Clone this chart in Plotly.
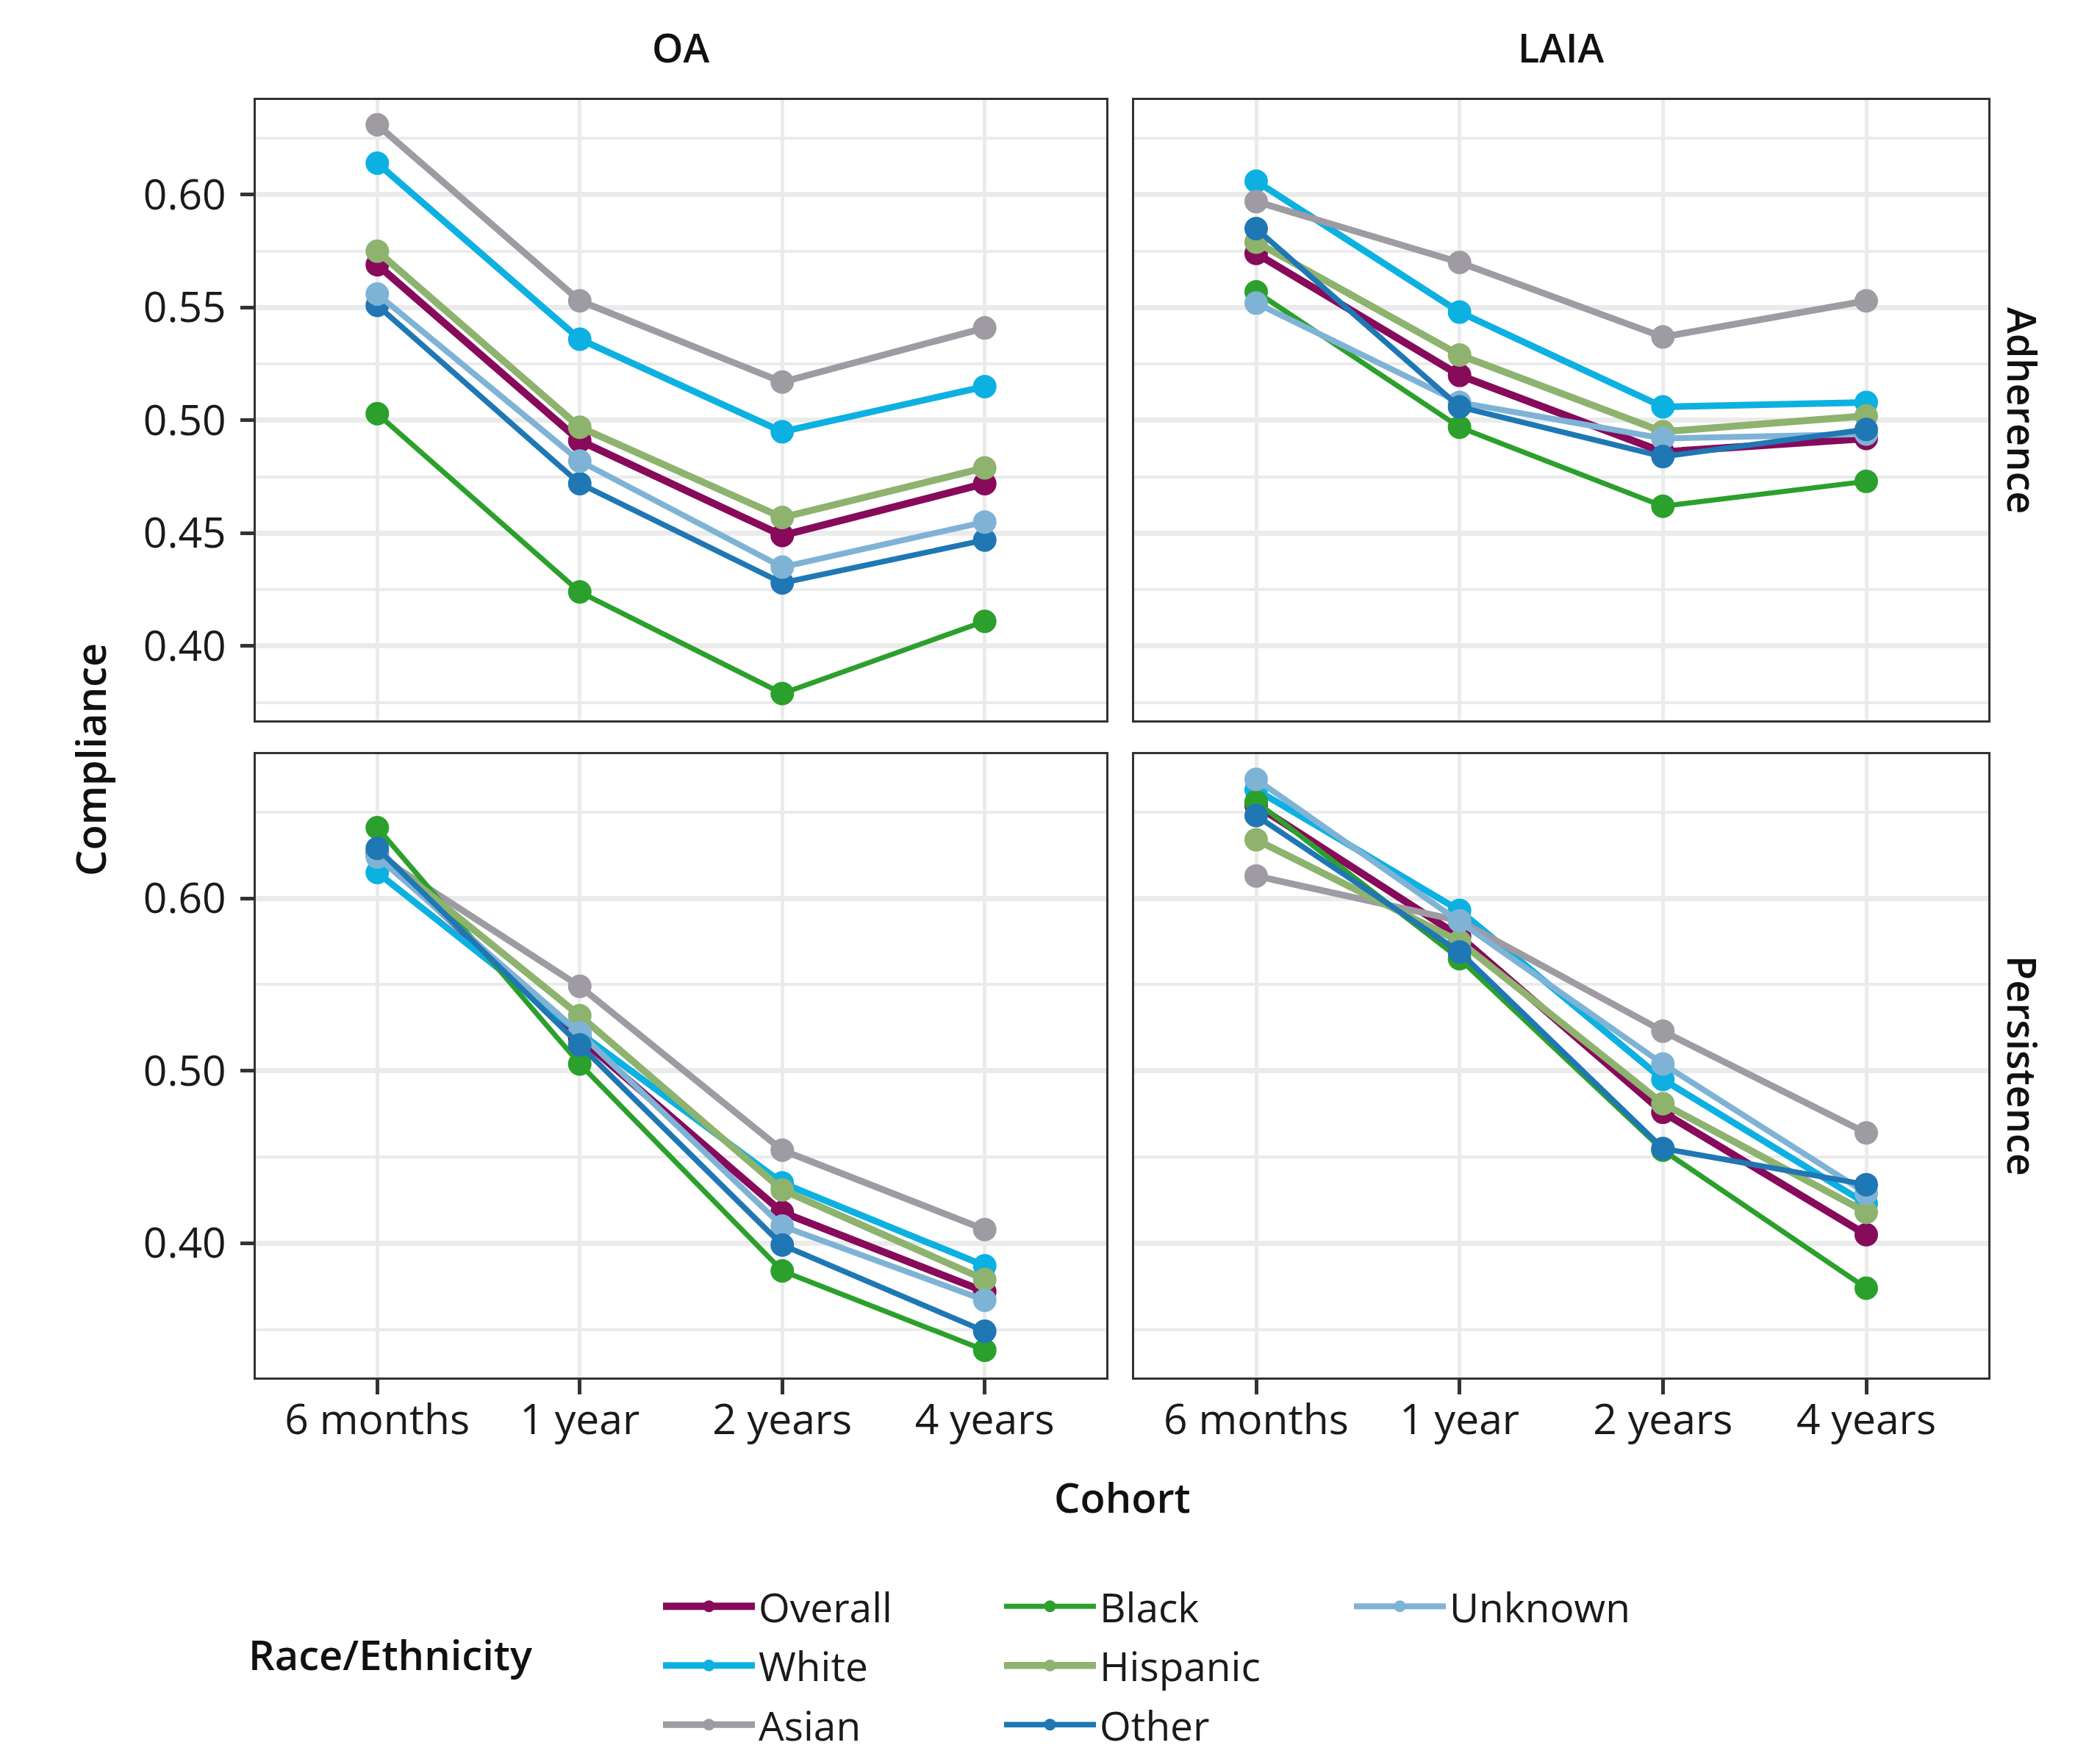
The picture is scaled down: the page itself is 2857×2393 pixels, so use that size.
import plotly.graph_objects as go

# ---------------- data ----------------
cohorts = ["6 months", "1 year", "2 years", "4 years"]
groups = ["Overall", "White", "Asian", "Black", "Hispanic", "Other", "Unknown"]

oa_adherence = {
    "Overall":  [0.569, 0.491, 0.449, 0.472],
    "White":    [0.614, 0.536, 0.495, 0.515],
    "Asian":    [0.631, 0.553, 0.517, 0.541],
    "Black":    [0.503, 0.424, 0.379, 0.411],
    "Hispanic": [0.575, 0.497, 0.457, 0.479],
    "Other":    [0.551, 0.472, 0.428, 0.447],
    "Unknown":  [0.556, 0.482, 0.435, 0.455],
}
laia_adherence = {
    "Overall":  [0.574, 0.520, 0.486, 0.492],
    "White":    [0.606, 0.548, 0.506, 0.508],
    "Asian":    [0.597, 0.570, 0.537, 0.553],
    "Black":    [0.557, 0.497, 0.462, 0.473],
    "Hispanic": [0.579, 0.529, 0.495, 0.502],
    "Other":    [0.585, 0.506, 0.484, 0.496],
    "Unknown":  [0.552, 0.508, 0.492, 0.494],
}
oa_persistence = {
    "Overall":  [0.626, 0.519, 0.418, 0.372],
    "White":    [0.615, 0.522, 0.435, 0.387],
    "Asian":    [0.625, 0.549, 0.454, 0.408],
    "Black":    [0.641, 0.504, 0.384, 0.338],
    "Hispanic": [0.627, 0.532, 0.431, 0.379],
    "Other":    [0.629, 0.515, 0.399, 0.349],
    "Unknown":  [0.624, 0.522, 0.410, 0.367],
}
laia_persistence = {
    "Overall":  [0.654, 0.578, 0.476, 0.405],
    "White":    [0.663, 0.593, 0.495, 0.423],
    "Asian":    [0.613, 0.587, 0.523, 0.464],
    "Black":    [0.656, 0.565, 0.454, 0.374],
    "Hispanic": [0.634, 0.575, 0.481, 0.418],
    "Other":    [0.648, 0.569, 0.455, 0.434],
    "Unknown":  [0.669, 0.587, 0.504, 0.429],
}

adh_ticks = [0.40, 0.45, 0.50, 0.55, 0.60]
per_ticks = [0.40, 0.50, 0.60]

# ---------------- styles ----------------
colors = {
    "Overall": "#870a5b",
    "White": "#0db1e1",
    "Asian": "#9e9ba3",
    "Black": "#2ca02c",
    "Hispanic": "#8db36f",
    "Other": "#1f77b4",
    "Unknown": "#7fb3d6",
}
widths = {"Overall": 10, "White": 9, "Asian": 9, "Black": 7,
          "Hispanic": 9.5, "Other": 7.5, "Unknown": 8}
legend_of = {"Overall": "legend", "White": "legend", "Asian": "legend",
             "Black": "legend2", "Hispanic": "legend2", "Other": "legend2",
             "Unknown": "legend3"}
draw_order = ["Overall", "White", "Asian", "Black", "Hispanic", "Unknown", "Other"]
legend_order = ["Overall", "White", "Asian", "Black", "Hispanic", "Other", "Unknown"]

FONT = "Open Sans"
W, H = 2857, 2393
BODY = 8  # default page margin offset of the html body

fig = go.Figure()

panels = [
    (oa_adherence, "x", "y"),
    (laia_adherence, "x2", "y2"),
    (oa_persistence, "x3", "y3"),
    (laia_persistence, "x4", "y4"),
]

for pi, (data, xa, ya) in enumerate(panels):
    order = legend_order if pi == 0 else draw_order
    for g in order:
        fig.add_trace(go.Scatter(
            x=cohorts, y=data[g], name=g, mode="lines+markers",
            line=dict(color=colors[g], width=widths[g]),
            marker=dict(color=colors[g], size=32),
            xaxis=xa, yaxis=ya,
            legend=legend_of[g], legendgroup=g,
            showlegend=(pi == 0),
        ))

# ---------------- layout ----------------
def px_x(v):
    return (v - BODY) / W

def px_y(v):
    return 1 - (v - BODY) / H

xl = [px_x(348), px_x(1505)]
xr = [px_x(1543), px_x(2705)]
yt = [px_y(980), px_y(136)]
yb = [px_y(1874), px_y(1026)]

grid_major = "#ebebeb"
line_col = "#333333"
TICK_SIZE = 57

def xaxis(domain, anchor, show_labels):
    return dict(
        domain=domain, anchor=anchor, type="category",
        categoryorder="array", categoryarray=cohorts,
        range=[-0.6, 3.6], showgrid=True, gridcolor=grid_major, gridwidth=5,
        showline=True, mirror=True, linecolor=line_col, linewidth=3,
        ticks="outside" if show_labels else "", ticklen=20, tickwidth=5,
        tickcolor=line_col, showticklabels=show_labels,
        ticklabelstandoff=-14,
        tickfont=dict(family=FONT, size=TICK_SIZE, color="#1a1a1a"),
        zeroline=False, fixedrange=True,
    )

def yaxis(domain, anchor, rng, tickvals, minor_dtick, minor_tick0, show_labels):
    return dict(
        domain=domain, anchor=anchor, range=rng,
        tickmode="array", tickvals=tickvals, tickformat=".2f",
        showgrid=True, gridcolor=grid_major, gridwidth=7,
        minor=dict(tickmode="linear", tick0=minor_tick0, dtick=minor_dtick,
                   showgrid=True, gridcolor=grid_major, gridwidth=4, ticklen=0),
        showline=True, mirror=True, linecolor=line_col, linewidth=3,
        ticks="outside" if show_labels else "", ticklen=18, tickwidth=5,
        tickcolor=line_col, showticklabels=show_labels,
        ticklabelstandoff=8,
        tickfont=dict(family=FONT, size=TICK_SIZE, color="#1a1a1a"),
        zeroline=False, fixedrange=True,
    )

adh_range = [0.3671, 0.6420]
per_range = [0.3222, 0.6836]

fig.update_layout(
    width=W, height=H,
    margin=dict(l=0, r=0, t=0, b=0, autoexpand=False),
    paper_bgcolor="white", plot_bgcolor="white",
    font=dict(family=FONT, color="#1a1a1a"),
    xaxis=xaxis(xl, "y", False),
    xaxis2=xaxis(xr, "y2", False),
    xaxis3=xaxis(xl, "y3", True),
    xaxis4=xaxis(xr, "y4", True),
    yaxis=yaxis(yt, "x", adh_range, adh_ticks, 0.05, 0.375, True),
    yaxis2=yaxis(yt, "x2", adh_range, adh_ticks, 0.05, 0.375, False),
    yaxis3=yaxis(yb, "x3", per_range, per_ticks, 0.1, 0.35, True),
    yaxis4=yaxis(yb, "x4", per_range, per_ticks, 0.1, 0.35, False),
)

leg_common = dict(
    orientation="v", xanchor="left", yanchor="top",
    bgcolor="rgba(0,0,0,0)", borderwidth=0,
    font=dict(family=FONT, size=55, color="#1a1a1a"),
    itemwidth=125, tracegroupgap=6, traceorder="grouped",
    itemclick=False, itemdoubleclick=False,
)
fig.update_layout(
    legend=dict(x=px_x(897), y=px_y(2143), **leg_common),
    legend2=dict(x=px_x(1361), y=px_y(2143), **leg_common),
    legend3=dict(x=px_x(1837), y=px_y(2143), **leg_common),
)

def ann(text, x, y, size, angle=0, xanchor="center"):
    return dict(text=text, x=x, y=y, xref="paper", yref="paper",
                xanchor=xanchor, yanchor="middle", showarrow=False,
                textangle=angle,
                font=dict(family=FONT, size=size, weight=600, color="#111111"))

annotations = [
    ann("OA", (xl[0] + xl[1]) / 2, px_y(64), 54),
    ann("LAIA", (xr[0] + xr[1]) / 2, px_y(64), 54),
    ann("Adherence", px_x(2752), (yt[0] + yt[1]) / 2, 54, angle=90),
    ann("Persistence", px_x(2752), (yb[0] + yb[1]) / 2, 54, angle=90),
    ann("Compliance", px_x(122), px_y(1033), 56, angle=-90),
    ann("Cohort", (xl[0] + xr[1]) / 2, px_y(2036), 56),
    ann("Race/Ethnicity", px_x(336), px_y(2250), 56, xanchor="left"),
]
fig.update_layout(annotations=annotations)

fig.write_html("out.html")
